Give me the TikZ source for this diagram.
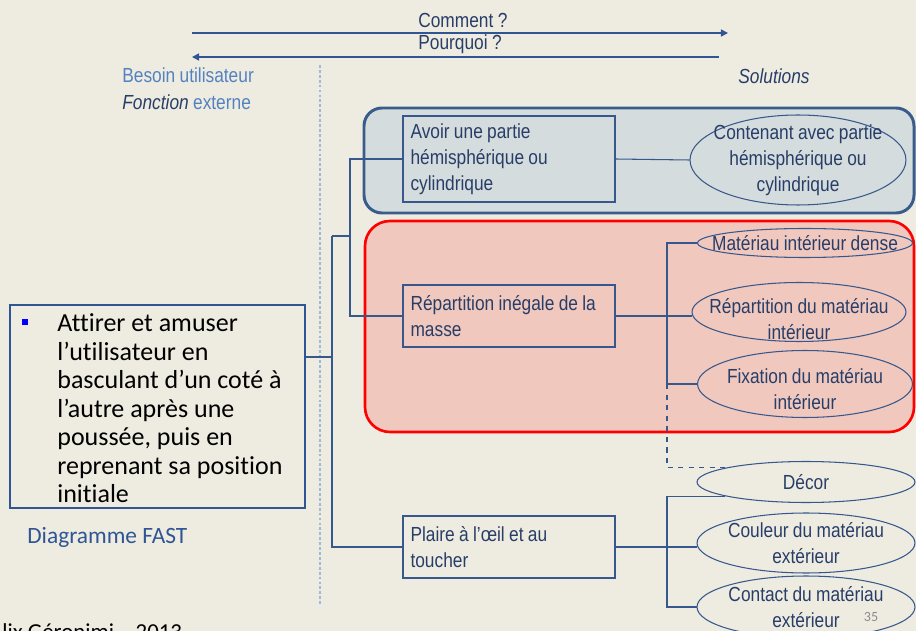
\documentclass[tikz,border=0pt]{standalone}
\usepackage{fontspec}
\usepackage{xcolor}
\usepackage{tikz}
\usetikzlibrary{shapes.geometric,arrows.meta,positioning}

\newfontfamily\narrowfont[FakeStretch=0.85,WordSpace=0.9]{Liberation Sans}
\newfontfamily\bodyfont[Ligatures=NoCommon]{Carlito}
\newcommand{\diagfont}{\narrowfont\fontsize{11.6}{14.7}\selectfont}

\definecolor{bgcol}{RGB}{238,236,225}
\definecolor{linecol}{RGB}{55,88,140}
\definecolor{txtcol}{RGB}{40,62,104}
\definecolor{lightcol}{RGB}{84,130,192}
\definecolor{dotcol}{RGB}{157,185,218}
\definecolor{bluegrp}{RGB}{213,220,221}
\definecolor{bluegrpline}{RGB}{58,92,140}
\definecolor{redgrp}{RGB}{240,200,190}
\definecolor{goalcol}{RGB}{47,85,148}

\begin{document}
\begin{tikzpicture}[x=0.02cm, y=-0.02cm,
	fct/.style={draw=linecol, line width=0.6pt, text=txtcol, font=\diagfont, text width=3.94cm, align=flush left, inner xsep=0.15cm, inner ysep=0pt, minimum height=1.24cm},
	sol/.style={ellipse, draw=linecol, line width=0.6pt, inner sep=0pt, minimum width=4.36cm},
	soltext/.style={text=txtcol, font=\diagfont, align=center},
	tree/.style={draw=linecol, line width=0.6pt},
	axis/.style={draw=goalcol, line width=0.8pt, -{Triangle[length=4pt,width=4pt]}},
	]
\fill[bgcol] (0,0) rectangle (916,631);
\useasboundingbox (0,0) rectangle (916,631);

% axes
\node[anchor=west, text=txtcol, font=\diagfont, inner sep=0pt] (how) at (418,20) {Comment ?};
\node[anchor=west, text=txtcol, font=\diagfont, inner sep=0pt] (why) at (418,44) {Pourquoi ?};
\coordinate (howa) at (192,33); \coordinate (howb) at (728,33);
\coordinate (whya) at (719,57); \coordinate (whyb) at (192,57);
\draw[axis] (howa) -- (howb);
\draw[axis] (whya) -- (whyb);

\node[anchor=west, text=lightcol, font=\diagfont, inner sep=0pt] (need) at (122,75) {Besoin utilisateur};
\node[anchor=west, text=lightcol, font=\diagfont, inner sep=0pt] (ext) at (122,102) {\textcolor{txtcol}{\itshape Fonction} externe};
\node[text=txtcol, font=\diagfont\itshape, inner sep=0pt] (solu) at (774,76) {Solutions};

\coordinate (sepa) at (320,65); \coordinate (sepb) at (320,606);
\draw[dotcol, line width=1.2pt, dash pattern=on 1.6pt off 1.2pt] (sepa) -- (sepb);

% groups
\draw[draw=bluegrpline, fill=bluegrp, line width=1.7pt, rounded corners=0.36cm] (364,108) rectangle (914,213);
\draw[draw=red, fill=redgrp, line width=1.5pt, rounded corners=0.5cm] (365,221) rectangle (914,432);

% goal
\node[draw=goalcol, line width=1.4pt, minimum width=5.9cm, minimum height=4.06cm, inner sep=0pt] (goal) at (157.5,406.5) {};
\node[fill=blue, inner sep=0pt, minimum size=0.13cm] (bullet) at (25,322) {};
\node[anchor=base west, inner sep=0pt, font=\bodyfont\fontsize{14.8}{16.2}\selectfont] (goaltext) at (57,332)
	{\parbox[t]{6cm}{\raggedright Attirer et amuser\\ l’utilisateur en\\ basculant d’un coté à\\ l’autre après une\\ poussée, puis en\\ reprenant sa position\\ initiale}};
\node[anchor=west, inner sep=0pt, text=goalcol, font=\bodyfont\fontsize{13.3}{16}\selectfont] (fast) at (27,537) {Diagramme FAST};
\node[anchor=base west, inner sep=0pt, font=\bodyfont\fontsize{13}{16}\selectfont] (auth) at (2,639) {lix Géronimi – 2013};
\node[inner sep=0pt, text=black!45, font=\bodyfont\fontsize{8}{10}\selectfont] (page) at (871,617) {35};

% functions
\node[fct, minimum height=1.72cm] (f1) at (509,159) {Avoir une partie\\hémisphérique ou\\cylindrique};
\node[fct] (f2) at (509,316) {Répartition inégale de la\\masse};
\node[fct] (f3) at (509,547) {Plaire à l’œil et au\\toucher};

% solutions
\node[sol, minimum width=4.32cm, minimum height=1.8cm, label={[soltext]center:{Contenant avec partie\\hémisphérique ou\\cylindrique}}] (s1) at (798,160) {};
\node[sol, minimum width=4.3cm, minimum height=0.58cm, label={[soltext]center:{Matériau intérieur dense}}] (s2) at (805,243) {};
\node[sol, minimum width=4.28cm, minimum height=1.18cm, label={[soltext,yshift=-4pt]center:{Répartition du matériau\\intérieur}}] (s3) at (799,312) {};
\node[sol, minimum width=4.3cm, minimum height=1.34cm, label={[soltext,yshift=-3pt]center:{Fixation du matériau\\intérieur}}] (s4) at (805,384) {};
\node[sol, minimum height=0.82cm, label={[soltext]center:{Décor}}] (s5) at (806,482) {};
\node[sol, minimum height=1.2cm, label={[soltext]center:{Couleur du matériau\\extérieur}}] (s6) at (806,543) {};
\node[sol, minimum height=1.24cm, label={[soltext]center:{Contact du matériau\\extérieur}}] (s7) at (806,607) {};

% tree
\coordinate (m) at (332,357);
\coordinate (b) at (350,236);
\coordinate (fork) at (667,0);
\draw[tree] (goal.east |- m) -- (m);
\draw[tree] (m |- b) -- (b);
\draw[tree] (m |- b) -- (m |- f3.west) -- (f3.west);
\draw[tree] (f1.west) -- (b |- f1.west) -- (b |- f2.west) -- (f2.west);
\draw[tree] (f1.east) -- (s1.west);
\draw[tree] (f2.east) -- (f2.east -| s3.west);
\draw[tree] (s2.west) -- (fork |- s2.west) -- (fork |- s4.west) -- (s4.west);
\draw[tree, dashed] (fork |- s4.west) -- (fork |- s5.170) -- (s5.170);
\draw[tree] (s5.190) -- (fork |- s5.190) -- (fork |- s7.west) -- (s7.west);
\draw[tree] (f3.east) -- (f3.east -| s6.west);
\end{tikzpicture}
\end{document}
